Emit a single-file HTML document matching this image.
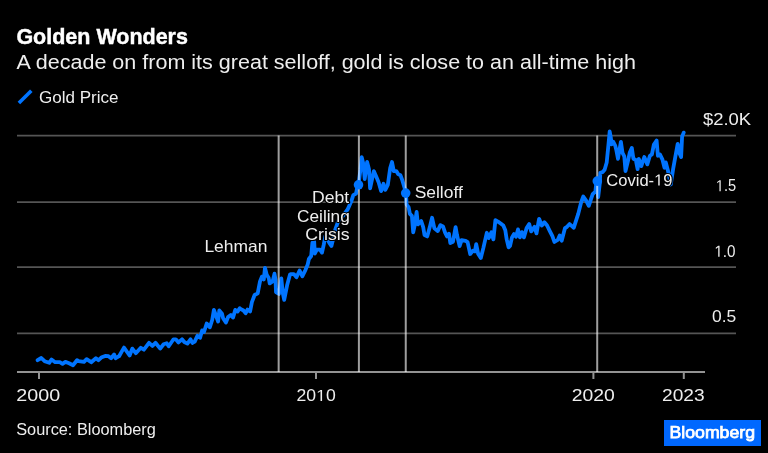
<!DOCTYPE html>
<html><head><meta charset="utf-8"><style>
html,body{margin:0;padding:0;background:#000;}
body{width:768px;height:453px;overflow:hidden;position:relative;}
svg{position:absolute;left:0;top:0;will-change:transform;}
text{font-family:"Liberation Sans",sans-serif;}
</style></head><body>
<svg width="768" height="453" viewBox="0 0 768 453">
<rect width="768" height="453" fill="#000"/>
<text x="16.40" y="43.90" font-size="22.7" font-weight="bold" textLength="171.54" lengthAdjust="spacingAndGlyphs" fill="#ffffff" stroke="#ffffff" stroke-width="0.45">Golden Wonders</text>
<text x="16.60" y="68.60" font-size="19.5" font-weight="normal" textLength="619.41" lengthAdjust="spacingAndGlyphs" fill="#eeeeee" stroke="#eeeeee" stroke-width="0.0">A decade on from its great selloff, gold is close to an all-time high</text>
<line x1="18.9" y1="103.0" x2="31.3" y2="90.8" stroke="#0074ff" stroke-width="3.6"/>
<text x="39.00" y="102.60" font-size="16.3" font-weight="normal" textLength="79.60" lengthAdjust="spacingAndGlyphs" fill="#eeeeee" stroke="#eeeeee" stroke-width="0.0">Gold Price</text>
<g stroke="#555" stroke-width="1.7">
<line x1="17" y1="135.7" x2="736" y2="135.7"/>
<line x1="17" y1="202.1" x2="736" y2="202.1"/>
<line x1="17" y1="267.2" x2="736" y2="267.2"/>
<line x1="17" y1="333.4" x2="736" y2="333.4"/>
</g>
<text x="703.02" y="124.90" font-size="16" font-weight="normal" textLength="48.14" lengthAdjust="spacingAndGlyphs" fill="#eeeeee" stroke="#eeeeee" stroke-width="0.0">$2.0K</text>
<text x="715.80" y="191.20" font-size="16" font-weight="normal" textLength="20.32" lengthAdjust="spacingAndGlyphs" fill="#eeeeee" stroke="#eeeeee" stroke-width="0.0"> .5</text><g fill="#eeeeee"><path d="M515,0 L515,1237 L197,1010 L197,1180 L530,1409 L696,1409 L696,0 Z" transform="translate(715.804,191.20) scale(0.007058,-0.007812)"/></g>
<text x="714.38" y="256.80" font-size="16" font-weight="normal" textLength="21.19" lengthAdjust="spacingAndGlyphs" fill="#eeeeee" stroke="#eeeeee" stroke-width="0.0"> .0</text><g fill="#eeeeee"><path d="M515,0 L515,1237 L197,1010 L197,1180 L530,1409 L696,1409 L696,0 Z" transform="translate(714.376,256.80) scale(0.007447,-0.007812)"/></g>
<text x="711.96" y="321.50" font-size="16" font-weight="normal" textLength="24.23" lengthAdjust="spacingAndGlyphs" fill="#eeeeee" stroke="#eeeeee" stroke-width="0.0">0.5</text>
<line x1="17" y1="372" x2="705" y2="372" stroke="#939393" stroke-width="2.2"/>
<g stroke="#939393" stroke-width="2">
<line x1="39" y1="372" x2="39" y2="379"/>
<line x1="316" y1="372" x2="316" y2="379"/>
<line x1="593.4" y1="372" x2="593.4" y2="379"/>
<line x1="683.8" y1="372" x2="683.8" y2="379"/>
</g>
<path d="M37.6,360.2 L41.3,358.0 L44.6,361.2 L49.2,362.8 L51.5,359.5 L55.2,362.2 L59.8,362.2 L62.5,363.8 L65.4,361.9 L69.1,363.2 L73.0,365.2 L77.0,360.2 L78.5,361.2 L84.0,361.8 L86.6,359.2 L91.2,362.2 L95.9,358.2 L98.5,360.2 L101.8,357.2 L105.2,355.9 L108.5,356.2 L111.1,358.2 L114.1,354.5 L115.7,358.2 L119.1,356.2 L121.7,351.6 L124.0,347.6 L129.6,355.5 L132.3,348.6 L135.8,353.2 L140.8,347.8 L143.9,349.7 L149.0,342.8 L152.4,345.9 L155.5,342.8 L160.2,348.6 L163.6,344.3 L166.7,343.2 L168.7,346.3 L173.5,339.3 L175.8,339.3 L178.5,342.4 L182.0,339.3 L184.3,342.0 L187.4,343.6 L190.5,339.3 L192.4,343.0 L194.7,341.6 L197.4,335.8 L200.1,337.8 L202.1,330.4 L204.0,332.0 L206.7,323.5 L209.8,327.3 L212.2,320.0 L213.9,309.9 L216.5,317.0 L218.1,321.5 L219.3,310.5 L222.0,313.8 L223.1,318.2 L225.9,322.6 L228.1,317.0 L230.8,314.9 L233.0,317.6 L235.3,309.9 L237.5,311.6 L239.7,308.2 L240.4,308.8 L243.5,310.5 L245.7,313.2 L247.5,309.6 L250.1,311.4 L251.9,302.1 L254.6,295.0 L257.7,293.3 L260.0,281.4 L261.9,276.6 L263.8,279.5 L265.0,267.8 L266.7,274.6 L268.7,278.0 L269.7,283.4 L272.6,281.4 L274.5,273.7 L275.5,279.5 L276.0,292.1 L278.9,294.0 L281.3,278.5 L282.8,293.1 L284.2,299.9 L287.1,285.3 L290.0,274.6 L291.2,274.1 L293.8,274.1 L296.5,277.2 L299.6,270.5 L302.3,276.3 L305.4,270.1 L307.6,264.8 L308.9,259.0 L311.2,256.0 L312.4,242.7 L314.2,241.8 L314.8,253.5 L316.9,249.7 L320.0,249.7 L322.0,252.6 L323.7,244.9 L325.4,236.0 L327.6,239.3 L329.2,242.7 L331.4,246.0 L333.1,239.3 L335.3,229.4 L338.5,220.3 L343.2,215.7 L347.8,209.1 L351.1,201.8 L353.3,195.2 L356.0,193.6 L356.8,189.5 L358.6,183.8 L360.5,169.3 L361.7,157.1 L363.5,164.4 L364.7,179.0 L367.1,162.0 L369.0,169.3 L370.1,188.3 L373.8,171.1 L376.2,176.6 L378.7,182.6 L381.1,191.1 L383.5,183.8 L385.3,189.9 L387.8,185.0 L390.2,168.1 L392.0,162.0 L393.8,171.1 L396.3,171.1 L398.1,174.1 L400.5,175.3 L402.3,180.2 L404.8,188.7 L406.0,193.0 L406.6,204.6 L408.6,207.2 L409.9,213.8 L411.9,215.8 L413.2,232.4 L414.6,225.8 L416.6,211.9 L417.9,224.4 L421.2,221.1 L423.2,227.1 L424.5,235.0 L427.2,236.4 L429.8,227.1 L432.1,217.8 L434.4,228.4 L437.7,231.1 L440.4,225.1 L443.0,226.4 L445.0,232.4 L447.0,236.4 L449.0,233.7 L450.3,243.0 L453.0,241.7 L455.6,227.1 L457.0,235.0 L459.6,246.1 L461.6,240.1 L465.6,240.8 L467.6,242.1 L470.2,254.0 L472.9,250.7 L474.9,251.4 L476.2,244.1 L478.2,254.0 L480.8,258.0 L483.5,247.4 L486.8,232.8 L488.8,238.1 L491.4,232.2 L493.4,239.4 L495.4,220.2 L498.0,221.6 L500.7,223.5 L503.3,225.5 L505.3,230.2 L506.7,239.4 L508.6,247.4 L510.0,246.0 L512.0,237.4 L514.0,234.1 L516.0,236.7 L518.0,229.4 L519.9,237.4 L521.9,232.1 L523.9,237.4 L526.6,228.1 L529.2,224.1 L531.2,231.4 L534.5,226.8 L536.5,233.4 L539.1,218.8 L541.8,225.5 L544.4,222.2 L547.1,225.5 L549.7,230.8 L552.4,236.1 L554.4,242.0 L557.7,240.0 L559.7,235.4 L561.7,240.7 L565.0,228.1 L567.0,226.8 L569.6,224.1 L573.8,227.7 L578.3,213.6 L581.1,202.5 L583.3,196.5 L586.0,200.3 L588.8,205.8 L591.0,199.2 L592.7,194.2 L595.4,191.5 L596.5,181.0 L598.2,197.0 L599.8,183.2 L600.3,172.8 L602.5,172.2 L604.6,169.8 L606.7,162.5 L608.5,144.3 L609.7,131.5 L610.9,138.2 L611.5,144.3 L613.3,141.8 L615.2,145.5 L616.4,150.3 L618.0,158.8 L619.4,150.3 L620.9,141.8 L622.5,152.8 L624.3,156.4 L625.5,171.0 L627.9,161.3 L629.7,152.8 L631.8,147.9 L633.4,158.8 L635.8,160.0 L637.6,169.2 L638.8,158.8 L641.3,166.1 L644.3,157.0 L647.3,164.4 L649.9,155.8 L651.9,154.4 L653.9,144.5 L656.6,140.5 L657.9,155.8 L659.9,154.4 L662.5,159.7 L664.5,167.7 L665.8,162.4 L667.8,170.0 L670.8,184.5 L673.1,169.1 L675.5,155.8 L677.7,143.8 L679.7,153.8 L681.1,157.1 L682.1,136.6 L683.7,132.6" fill="none" stroke="#0074ff" stroke-width="3.8" stroke-linejoin="round" stroke-linecap="round"/>
<g stroke="#fff" stroke-opacity="0.62" stroke-width="2">
<line x1="278.65" y1="135.5" x2="278.65" y2="372"/>
<line x1="358.9" y1="135.5" x2="358.9" y2="372"/>
<line x1="405.75" y1="135.5" x2="405.75" y2="372"/>
<line x1="597.2" y1="135.5" x2="597.2" y2="372"/>
</g>
<g fill="#0074ff">
<circle cx="358.5" cy="184.8" r="4.8"/>
<circle cx="405.7" cy="193.1" r="4.8"/>
<circle cx="597.3" cy="181.1" r="4.8"/>
</g>
<text x="204.42" y="252.40" font-size="16.5" font-weight="normal" textLength="63.02" lengthAdjust="spacingAndGlyphs" fill="#000" stroke="#000" stroke-width="2.2" stroke-linejoin="round">Lehman</text><text x="204.42" y="252.40" font-size="16.5" font-weight="normal" textLength="63.02" lengthAdjust="spacingAndGlyphs" fill="#eeeeee" stroke="#eeeeee" stroke-width="0.0">Lehman</text>
<text x="312.06" y="202.60" font-size="16" font-weight="normal" textLength="37.16" lengthAdjust="spacingAndGlyphs" fill="#000" stroke="#000" stroke-width="2.2" stroke-linejoin="round">Debt</text><text x="312.06" y="202.60" font-size="16" font-weight="normal" textLength="37.16" lengthAdjust="spacingAndGlyphs" fill="#eeeeee" stroke="#eeeeee" stroke-width="0.0">Debt</text>
<text x="297.10" y="221.50" font-size="16" font-weight="normal" textLength="52.67" lengthAdjust="spacingAndGlyphs" fill="#000" stroke="#000" stroke-width="2.2" stroke-linejoin="round">Ceiling</text><text x="297.10" y="221.50" font-size="16" font-weight="normal" textLength="52.67" lengthAdjust="spacingAndGlyphs" fill="#eeeeee" stroke="#eeeeee" stroke-width="0.0">Ceiling</text>
<text x="305.30" y="240.00" font-size="16" font-weight="normal" textLength="44.21" lengthAdjust="spacingAndGlyphs" fill="#000" stroke="#000" stroke-width="2.2" stroke-linejoin="round">Crisis</text><text x="305.30" y="240.00" font-size="16" font-weight="normal" textLength="44.21" lengthAdjust="spacingAndGlyphs" fill="#eeeeee" stroke="#eeeeee" stroke-width="0.0">Crisis</text>
<text x="414.67" y="197.50" font-size="16" font-weight="normal" textLength="48.11" lengthAdjust="spacingAndGlyphs" fill="#000" stroke="#000" stroke-width="2.2" stroke-linejoin="round">Selloff</text><text x="414.67" y="197.50" font-size="16" font-weight="normal" textLength="48.11" lengthAdjust="spacingAndGlyphs" fill="#eeeeee" stroke="#eeeeee" stroke-width="0.0">Selloff</text>
<text x="606.30" y="185.60" font-size="16" font-weight="normal" textLength="66.24" lengthAdjust="spacingAndGlyphs" fill="#000" stroke="#000" stroke-width="2.2" stroke-linejoin="round">Covid- 9</text><g fill="#000" stroke="#000" stroke-width="281.6" stroke-linejoin="round"><path d="M515,0 L515,1237 L197,1010 L197,1180 L530,1409 L696,1409 L696,0 Z" transform="translate(654.069,185.60) scale(0.008079,-0.007812)"/></g><text x="606.30" y="185.60" font-size="16" font-weight="normal" textLength="66.24" lengthAdjust="spacingAndGlyphs" fill="#eeeeee" stroke="#eeeeee" stroke-width="0.0">Covid- 9</text><g fill="#eeeeee"><path d="M515,0 L515,1237 L197,1010 L197,1180 L530,1409 L696,1409 L696,0 Z" transform="translate(654.069,185.60) scale(0.008079,-0.007812)"/></g>
<text x="16.30" y="401.00" font-size="16" font-weight="normal" textLength="43.81" lengthAdjust="spacingAndGlyphs" fill="#eeeeee" stroke="#eeeeee" stroke-width="0.0">2000</text>
<text x="296.50" y="401.00" font-size="16" font-weight="normal" textLength="39.19" lengthAdjust="spacingAndGlyphs" fill="#eeeeee" stroke="#eeeeee" stroke-width="0.0">20 0</text><g fill="#eeeeee"><path d="M515,0 L515,1237 L197,1010 L197,1180 L530,1409 L696,1409 L696,0 Z" transform="translate(316.083,401.00) scale(0.008604,-0.007812)"/></g>
<text x="571.80" y="401.00" font-size="16" font-weight="normal" textLength="43.05" lengthAdjust="spacingAndGlyphs" fill="#eeeeee" stroke="#eeeeee" stroke-width="0.0">2020</text>
<text x="662.10" y="401.00" font-size="16" font-weight="normal" textLength="42.53" lengthAdjust="spacingAndGlyphs" fill="#eeeeee" stroke="#eeeeee" stroke-width="0.0">2023</text>
<text x="16.18" y="434.80" font-size="16" font-weight="normal" textLength="139.67" lengthAdjust="spacingAndGlyphs" fill="#eeeeee" stroke="#eeeeee" stroke-width="0.0">Source: Bloomberg</text>
<rect x="664" y="420" width="97" height="26" fill="#0068ff"/>
<text x="669.51" y="438.00" font-size="16.2" font-weight="normal" textLength="85.51" lengthAdjust="spacingAndGlyphs" fill="#ffffff" stroke="#ffffff" stroke-width="0.75">Bloomberg</text>
</svg>
</body></html>
